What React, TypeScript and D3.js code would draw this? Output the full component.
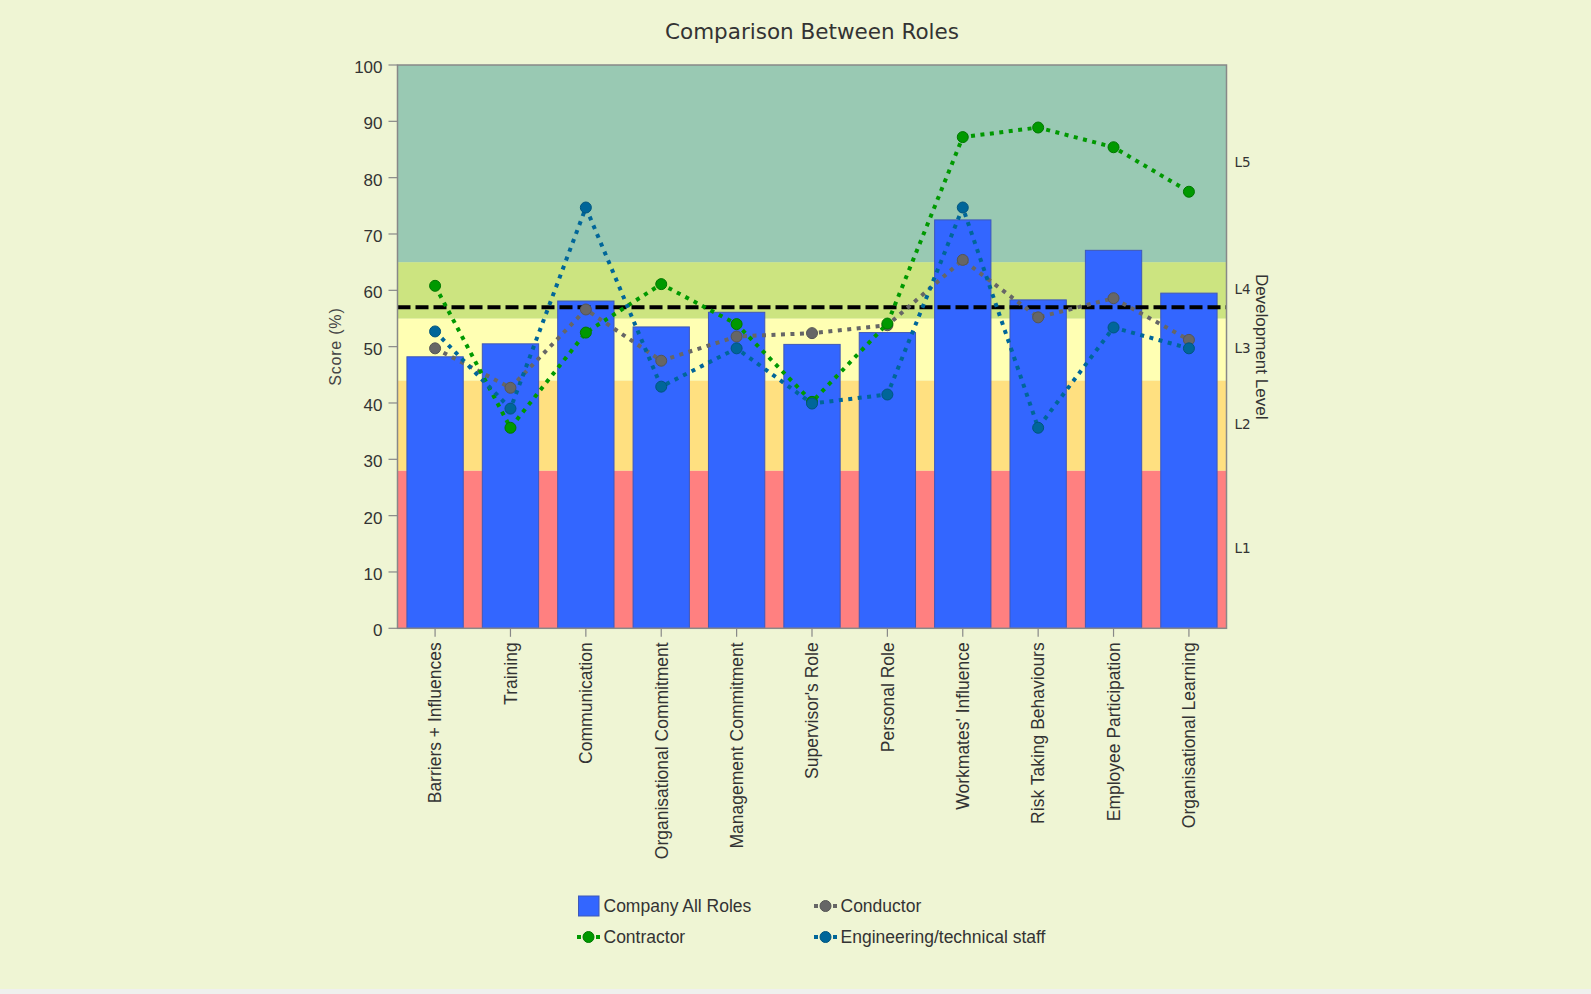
import React from 'react';
import * as d3 from 'd3';

const categories = [
  'Barriers + Influences',
  'Training',
  'Communication',
  'Organisational Commitment',
  'Management Commitment',
  "Supervisor's Role",
  'Personal Role',
  "Workmates' Influence",
  'Risk Taking Behaviours',
  'Employee Participation',
  'Organisational Learning',
];

const companyAllRoles = [48.2, 50.5, 58.1, 53.5, 56.1, 50.4, 52.5, 72.5, 58.3, 67.1, 59.5];
const conductor = [49.7, 42.7, 56.6, 47.5, 51.8, 52.4, 53.8, 65.4, 55.2, 58.6, 51.2];
const contractor = [60.8, 35.6, 52.5, 61.1, 54.0, 40.2, 54.1, 87.2, 88.9, 85.4, 77.5];
const engineering = [52.7, 39.0, 74.7, 42.9, 49.7, 39.9, 41.5, 74.7, 35.6, 53.4, 49.7];

// development level bands [from, to, label]
const levels: [number, number, string][] = [
  [0, 28, 'L1'],
  [28, 44, 'L2'],
  [44, 55, 'L3'],
  [55, 65, 'L4'],
  [65, 100, 'L5'],
];
const levelColors = ['#ff8080', '#ffe080', '#ffffb3', '#cce480', '#99c9b3'];
const targetLine = 57;
const yTicks = [0, 10, 20, 30, 40, 50, 60, 70, 80, 90, 100];

const lineSeries = [
  { name: 'Conductor', values: conductor, color: '#666666', edge: '#555555' },
  { name: 'Contractor', values: contractor, color: '#009900', edge: '#007700' },
  { name: 'Engineering/technical staff', values: engineering, color: '#006699', edge: '#00557f' },
];

const W = 1591;
const H = 994;
const margin = { left: 397.5, right: 1226.5, top: 65, bottom: 628.3 };
const arial = '"Liberation Sans", Arial, sans-serif';
const dejavu = '"DejaVu Sans", Verdana, sans-serif';

const App: React.FC = () => {
  const x = d3.scaleBand<string>()
    .domain(categories)
    .range([margin.left, margin.right])
    .paddingInner(0.253)
    .paddingOuter(0.125);
  const y = d3.scaleLinear().domain([0, 100]).range([margin.bottom, margin.top]);
  const cx = (c: string) => (x(c) ?? 0) + x.bandwidth() / 2;

  const line = d3.line<number>()
    .x((_, i) => cx(categories[i]))
    .y(d => y(d));

  const plotW = margin.right - margin.left;

  return (
    <div style={{ position: 'fixed', left: 0, top: 0 }}>
      <svg width={W} height={H} style={{ display: 'block' }}>
        <rect x={0} y={0} width={W} height={H} fill="#eff0ee" />
        <rect x={0} y={0} width={W} height={989} fill="#eff5d4" />

        <text x={(margin.left + margin.right) / 2} y={39} textAnchor="middle"
          fontFamily={dejavu} fontSize={21.5} fill="#333">Comparison Between Roles</text>

        {levels.map(([a, b], i) => (
          <rect key={i} x={margin.left} y={y(b)} width={plotW} height={y(a) - y(b)} fill={levelColors[i]} />
        ))}

        {categories.map((c, i) => (
          <rect key={c} x={x(c)} y={y(companyAllRoles[i])} width={x.bandwidth()}
            height={y(0) - y(companyAllRoles[i])} fill="#3366ff" stroke="#3f58b8" strokeWidth={1} />
        ))}

        <line x1={margin.left} x2={margin.right} y1={y(targetLine)} y2={y(targetLine)}
          stroke="#000" strokeWidth={4} strokeDasharray="13 5" />

        {lineSeries.map(s => (
          <g key={s.name}>
            <path d={line(s.values) ?? ''} fill="none" stroke={s.color} strokeWidth={4} strokeDasharray="4 5.5" />
            {s.values.map((v, i) => (
              <circle key={i} cx={cx(categories[i])} cy={y(v)} r={5.5} fill={s.color} stroke={s.edge} strokeWidth={1} />
            ))}
          </g>
        ))}

        <rect x={margin.left} y={margin.top} width={plotW} height={margin.bottom - margin.top}
          fill="none" stroke="#888" strokeWidth={1.5} />

        {yTicks.map(t => (
          <g key={t}>
            <line x1={margin.left - 9} x2={margin.left} y1={y(t)} y2={y(t)} stroke="#888" strokeWidth={1.2} />
            <text x={margin.left - 15} y={y(t)} dy="0.48em" textAnchor="end"
              fontFamily={arial} fontSize={17} fill="#333">{t}</text>
          </g>
        ))}

        {categories.map(c => (
          <g key={c}>
            <line x1={cx(c)} x2={cx(c)} y1={margin.bottom} y2={margin.bottom + 8.5} stroke="#888" strokeWidth={1.2} />
            <text transform={`translate(${cx(c)},${margin.bottom + 14}) rotate(-90)`} dy="0.36em"
              textAnchor="end" fontFamily={arial} fontSize={17.5} fill="#333">{c}</text>
          </g>
        ))}

        {levels.map(([a, b, label]) => (
          <text key={label} x={margin.right + 8} y={y((a + b) / 2)} dy="0.25em"
            fontFamily={dejavu} fontSize={13.5} fill="#333">{label}</text>
        ))}

        <text transform={`translate(335,${(margin.top + margin.bottom) / 2}) rotate(-90)`} dy="0.36em"
          textAnchor="middle" fontFamily={arial} fontSize={16} letterSpacing={0.8} fill="#444">Score (%)</text>
        <text transform={`translate(1262,${(margin.top + margin.bottom) / 2}) rotate(90)`} dy="0.36em"
          textAnchor="middle" fontFamily={arial} fontSize={17} fill="#333">Development Level</text>

        {/* legend */}
        <g fontFamily={arial} fontSize={17.5} fill="#333">
          <rect x={578.5} y={896} width={20.5} height={20} fill="#3366ff" stroke="#3f58b8" />
          <text x={603.5} y={906} dy="0.36em">Company All Roles</text>
          {lineSeries.map((s, i) => {
            const lx = i === 1 ? 577 : 814;
            const ly = i === 0 ? 906 : 937;
            return (
              <g key={s.name}>
                <line x1={lx} x2={lx + 23} y1={ly} y2={ly} stroke={s.color} strokeWidth={4} strokeDasharray="4 5.5" />
                <circle cx={lx + 11.5} cy={ly} r={5.5} fill={s.color} stroke={s.edge} />
                <text x={lx + 26.5} y={ly} dy="0.36em">{s.name}</text>
              </g>
            );
          })}
        </g>
      </svg>
    </div>
  );
};

export default App;
